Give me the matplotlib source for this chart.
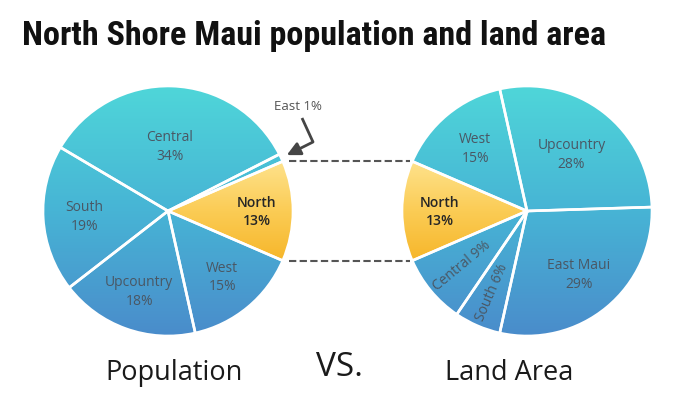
import numpy as np
import matplotlib
matplotlib.use("Agg")
import matplotlib.pyplot as plt
from matplotlib import font_manager
from matplotlib.colors import LinearSegmentedColormap

# data
pop_labels = ['North', 'East', 'Central', 'South', 'Upcountry', 'West']
pop_share = [13, 1, 34, 19, 18, 15]
land_labels = ['North', 'Central', 'South', 'East Maui', 'Upcountry', 'West']
land_share = [13, 9, 6, 29, 28, 15]

title = 'North Shore Maui population and land area'

# layout (figure pixel space, y up)
W, H = 680, 402
R = 125
pop_center = (168, 190)
land_center = (527, 190)
pop_lab_r = [0.71, None, 0.52, 0.67, 0.68, 0.68]
land_lab_r = [0.70, 0.68, 0.70, 0.65, 0.58, 0.65]
land_rotated = [False, True, True, False, False, False]


def pick_font(names):
    for n in names:
        try:
            font_manager.findfont(font_manager.FontProperties(family=n), fallback_to_default=False)
            return n
        except Exception:
            pass
    return 'DejaVu Sans'


title_font = pick_font(['Liberation Sans Narrow', 'Roboto Condensed', 'DejaVu Sans'])
body_font = pick_font(['Open Sans', 'Lato', 'DejaVu Sans'])

blue_cmap = LinearSegmentedColormap.from_list('bl', ['#4fd6d9', '#47b4d5', '#4a8ccb'])
gold_cmap = LinearSegmentedColormap.from_list('gd', ['#fee28c', '#fbcc55', '#f6b62a'])
grad = np.linspace(0, 1, 256).reshape(-1, 1)

fig = plt.figure(figsize=(6.8, 4.02), dpi=100)
ax = fig.add_axes([0, 0, 1, 1])


def draw_pie(share, labels, center, lab_r, rotated=None):
    cx, cy = center
    start = -share[0] * 3.6 / 2 if center == pop_center else 180 - share[0] * 3.6 / 2
    wedges, _ = ax.pie(share, center=center, radius=R, startangle=start,
                       counterclock=True, frame=True,
                       wedgeprops=dict(facecolor='none', edgecolor='white',
                                       linewidth=1.9, zorder=3))
    for i, w in enumerate(wedges):
        if labels[i] == 'North':
            hs = R * np.sin(np.radians(share[i] * 3.6 / 2))
            im = ax.imshow(grad, cmap=gold_cmap, aspect='auto', origin='upper',
                           extent=(cx - R, cx + R, cy - hs, cy + hs), zorder=1)
        else:
            im = ax.imshow(grad, cmap=blue_cmap, aspect='auto', origin='upper',
                           extent=(cx - R, cx + R, cy - R, cy + R), zorder=1)
        im.set_clip_path(w)

        if lab_r[i] is None:
            continue
        mid = np.radians((w.theta1 + w.theta2) / 2)
        tx = cx + lab_r[i] * R * np.cos(mid)
        ty = cy + lab_r[i] * R * np.sin(mid)
        col = '#262626' if labels[i] == 'North' else '#4a5764'
        if rotated is not None and rotated[i]:
            ax.text(tx, ty, f'{labels[i]} {share[i]}%', ha='center', va='center',
                    rotation=np.degrees(mid) - 180, rotation_mode='anchor',
                    fontsize=10, color=col, family=body_font, zorder=5)
        else:
            ax.text(tx, ty, f'{labels[i]}\n{share[i]}%', ha='center', va='center',
                    fontsize=10, color=col, family=body_font, linespacing=1.35,
                    fontweight='semibold' if labels[i] == 'North' else 'normal',
                    zorder=5)
    return wedges


pw = draw_pie(pop_share, pop_labels, pop_center, pop_lab_r)
lw_ = draw_pie(land_share, land_labels, land_center, land_lab_r, land_rotated)

# dashed connectors between the North slices
for a_l, a_r in [(pw[0].theta2, lw_[0].theta1), (pw[0].theta1, lw_[0].theta2)]:
    x0 = pop_center[0] + R * np.cos(np.radians(a_l)) + 6
    y0 = pop_center[1] + R * np.sin(np.radians(a_l))
    x1 = land_center[0] + R * np.cos(np.radians(a_r)) - 2
    ax.plot([x0, x1], [y0, y0], color='#555555', lw=1.5, dashes=(3.5, 1.6), zorder=4)

# East 1% callout
east = pw[1]
emid = np.radians((east.theta1 + east.theta2) / 2)
tip = (pop_center[0] + R * 1.05 * np.cos(emid), pop_center[1] + R * 1.05 * np.sin(emid))
ax.text(298, H - 107, f'{pop_labels[1]} {pop_share[1]}%', ha='center', va='center',
        fontsize=9.5, color='#555555', family=body_font)
ax.plot([302, 313], [H - 119, H - 143], color='#454545', lw=2, solid_capstyle='butt')
ax.annotate('', xy=tip, xytext=(313, H - 143),
            arrowprops=dict(arrowstyle='-|>,head_length=0.8,head_width=0.4',
                            color='#454545', lw=2, shrinkA=0, shrinkB=0))

# bottom captions
ax.text(174, H - 380, 'Population', ha='center', va='baseline', fontsize=19.5,
        color='#1a1a1a', family=body_font)
ax.text(340, H - 376, 'VS.', ha='center', va='baseline', fontsize=24,
        color='#1a1a1a', family=body_font)
ax.text(509, H - 380, 'Land Area', ha='center', va='baseline', fontsize=19.5,
        color='#1a1a1a', family=body_font)

# title, scaled to its width in the reference
t = ax.text(22, H - 45, title, ha='left', va='baseline', fontsize=24,
            fontweight='bold', family=title_font, stretch='condensed', color='#111111')
fig.canvas.draw()
wpx = t.get_window_extent().width
t.set_fontsize(24 * 585 / wpx)

ax.set_xlim(0, W)
ax.set_ylim(0, H)
ax.axis('off')
plt.savefig('out.png', dpi=100)
